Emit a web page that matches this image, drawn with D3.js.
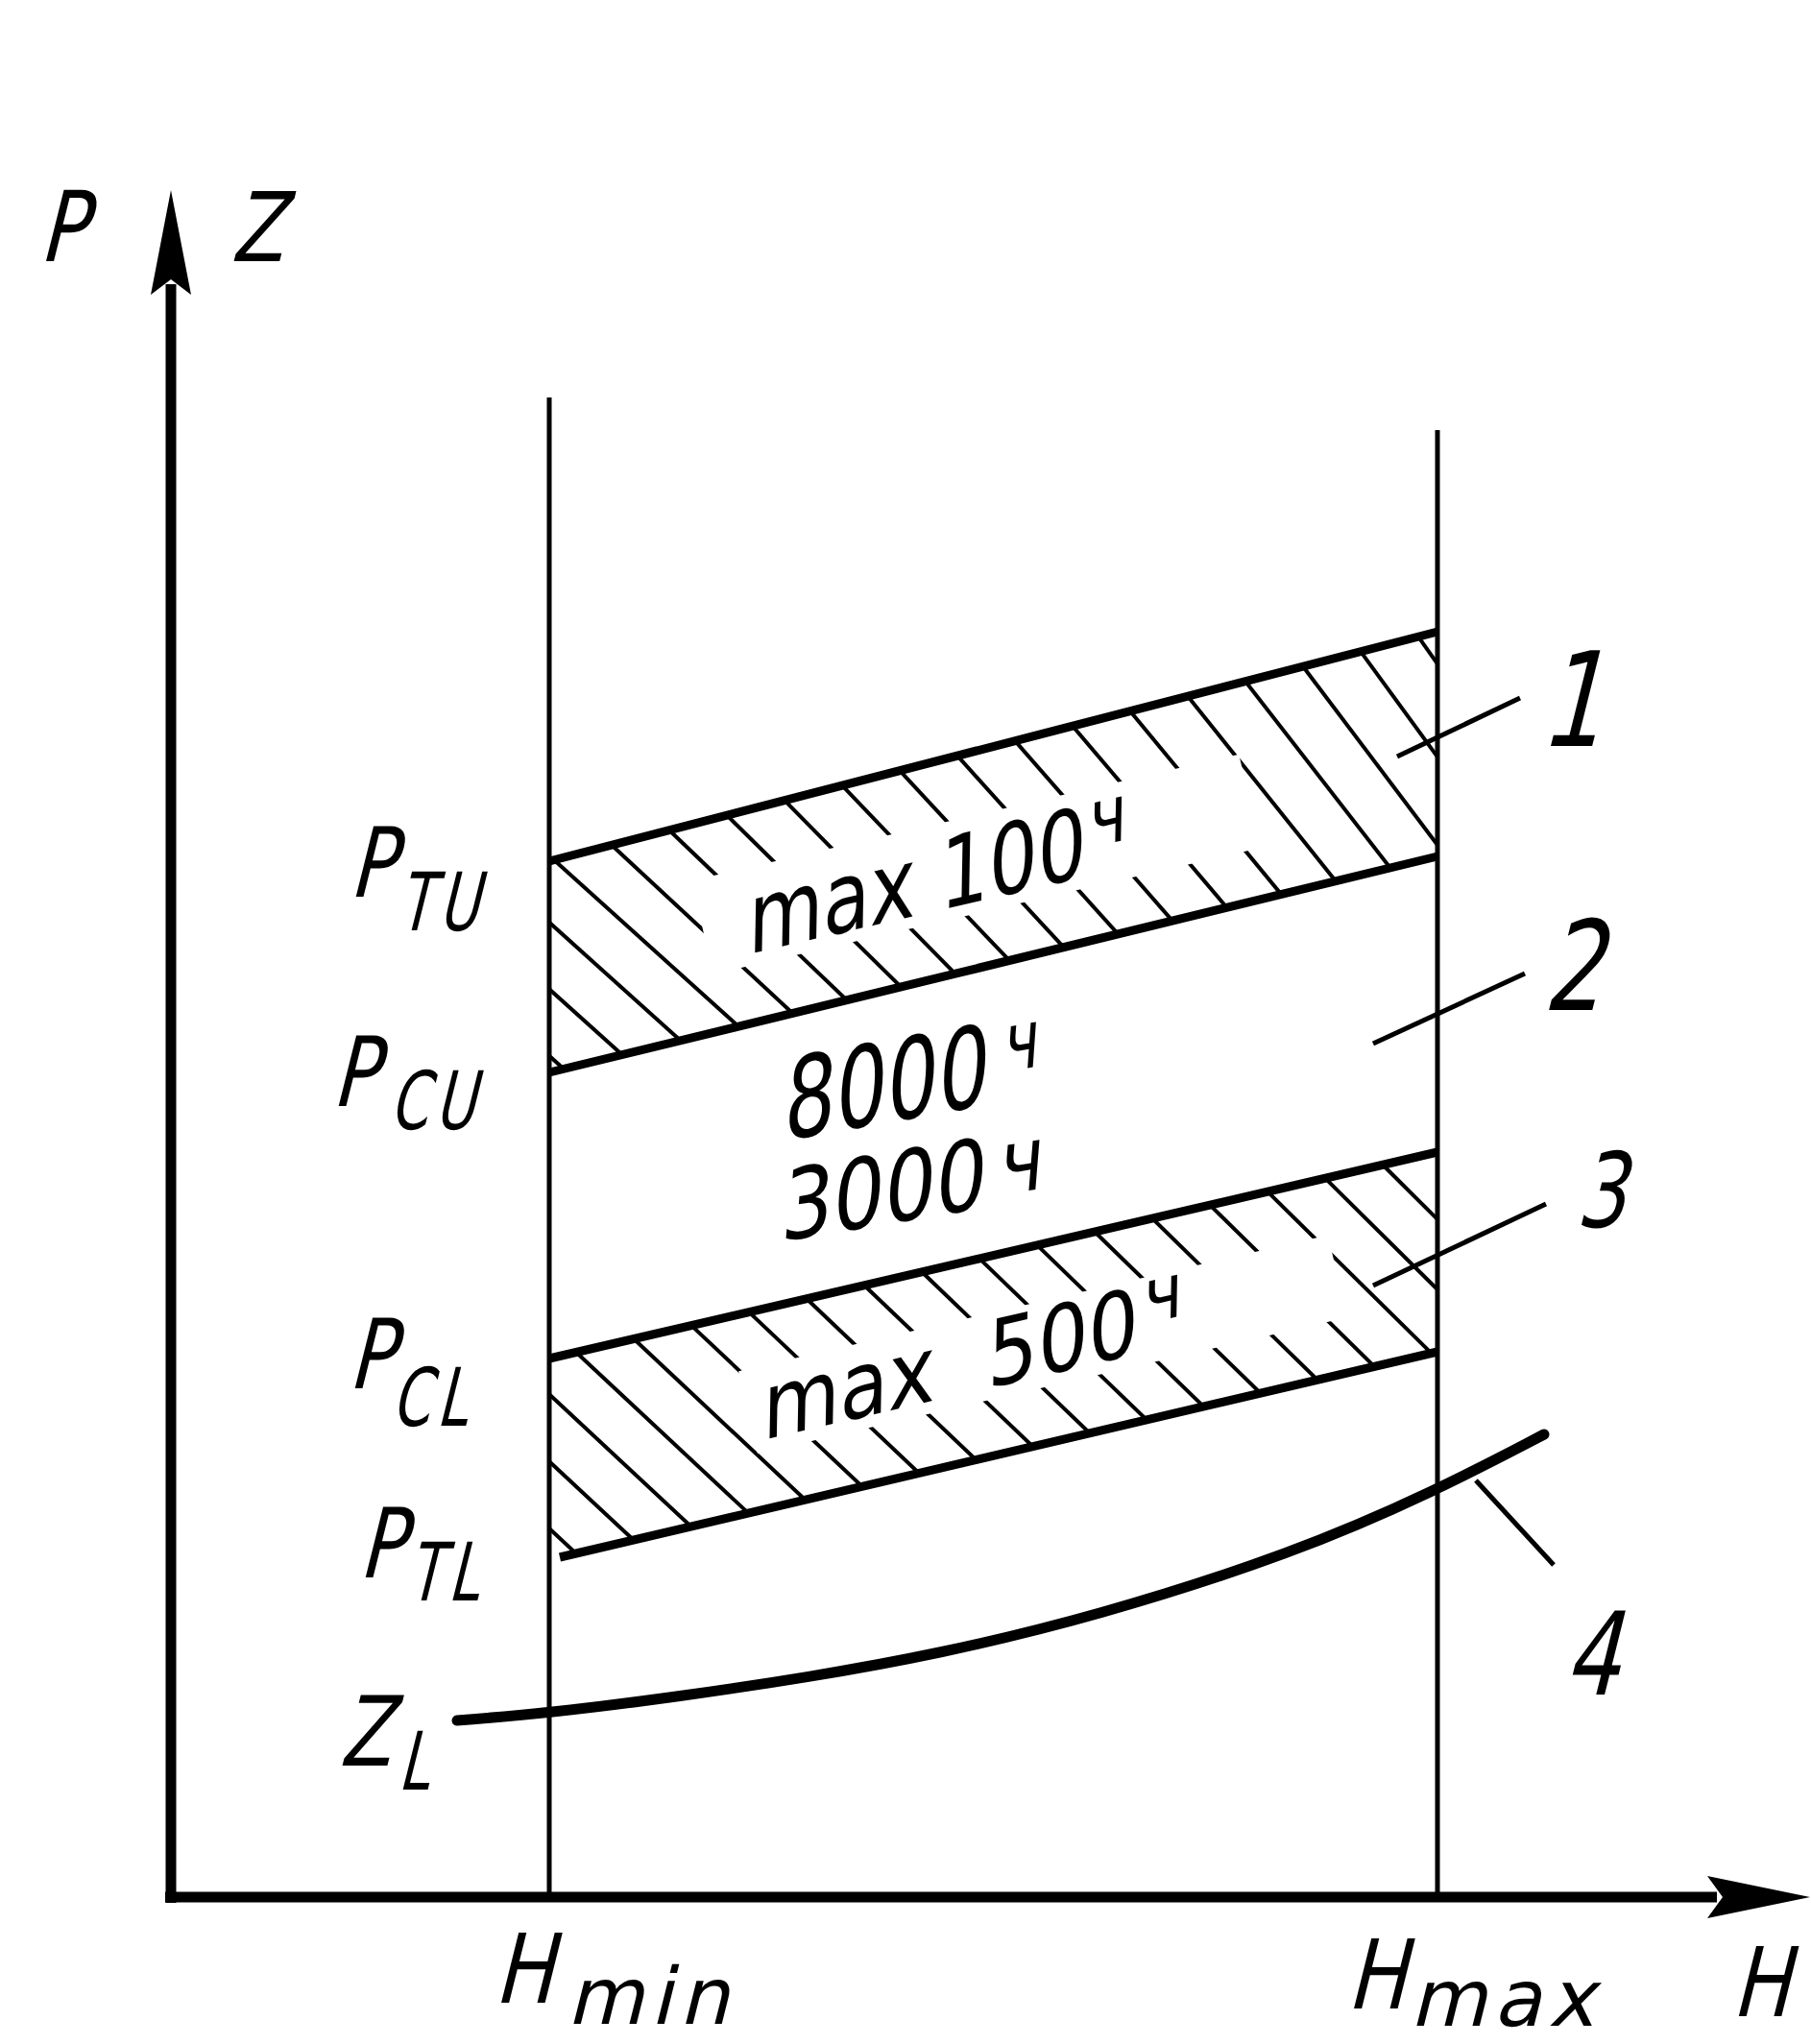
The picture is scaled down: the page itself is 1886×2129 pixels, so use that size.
<!DOCTYPE html>
<html>
<head>
<meta charset="utf-8">
<script src="https://cdn.jsdelivr.net/npm/d3@7"></script>
<style>
  body { margin: 0; background: #fff; }
  svg { display: block; }
</style>
</head>
<body>
<svg width="1886" height="2129"></svg>
<script>
// chart values, in H (horizontal) and P / Z (vertical) units
var hLimits = [39.4, 131.9];            // Hmin, Hmax
var hLimitTops = [156.2, 152.8];        // where the two vertical lines end
var band1Top = [107.9, 131.8];          // P_TU line at Hmin, Hmax
var band1Bottom = [85.9, 108.4];        // P_CU line
var band3Top = [56.1, 77.6];            // P_CL line
var band3Bottom = [35.4, 56.8];         // P_TL line
var band3BottomStart = 40.5;            // P_TL line starts a bit right of Hmin
var zlCurve = [
  [29.8, 18.4], [39.6, 19.2], [53.0, 20.9], [66.4, 22.9], [79.8, 25.3],
  [96.2, 29.2], [116.9, 35.8], [131.7, 42.3], [143.0, 48.2]
];
var leaderLines = [
  [[127.7, 118.8], [140.5, 124.9]],
  [[125.2, 88.9], [141.0, 96.2]],
  [[125.2, 63.7], [143.2, 72.2]],
  [[135.9, 43.4], [144.0, 34.6]]
];
var leaderNames = ["1", "2", "3", "4"];
var levelNames = [["P", "TU"], ["P", "CU"], ["P", "CL"], ["P", "TL"], ["Z", "L"]];
var hNames = [["H", "min"], ["H", "max"]];
var bandTexts = [["max", "100", "ч"], ["max", "500", "ч"]];
var lifeTexts = [["8000", "ч"], ["3000", "ч"]];

var FONT = "'DejaVu Sans', sans-serif";
var svg = d3.select("svg");

var x = d3.scaleLinear().domain([0, 171]).range([178, 1888]);
var y = d3.scaleLinear().domain([0, 178]).range([1976, 196]);

// text in the slanted, narrow drafting style
function drawText(px, py, angle, parts, opt) {
  var g = svg.append("g")
    .attr("transform", "translate(" + px + "," + py + ") rotate(" + angle + ") skewX(-14) scale(" + (opt.sx || 0.72) + ",1)");
  var t = g.append("text")
    .attr("font-family", FONT)
    .attr("font-size", opt.size)
    .attr("letter-spacing", opt.ls || 0)
    .attr("text-anchor", opt.anchor || "start")
    .attr("fill", "#000");
  parts.forEach(function(p) {
    t.append("tspan")
      .attr("dx", p.dx || 0)
      .attr("dy", p.dy || 0)
      .attr("font-size", p.size || null)
      .text(p.t);
  });
}

// vertical lines at Hmin and Hmax
hLimits.forEach(function(h, i) {
  svg.append("line")
    .attr("x1", x(h)).attr("x2", x(h))
    .attr("y1", y(hLimitTops[i])).attr("y2", y(0))
    .attr("stroke", "#000").attr("stroke-width", 5);
});

// hatched bands
function hatchBand(id, poly, topLine, angL, angR, phase, gap) {
  svg.append("clipPath").attr("id", id)
    .append("polygon")
    .attr("points", poly.map(function(p) { return p.join(","); }).join(" "));
  var g = svg.append("g").attr("clip-path", "url(#" + id + ")");
  var xa = topLine[0][0], ya = topLine[0][1], xb = topLine[1][0], yb = topLine[1][1];
  var slope = (yb - ya) / (xb - xa);
  for (var xs = phase - 60 * 12; xs < xb + 20; xs += 60) {
    var t = Math.max(0, Math.min(1, (xs - xa) / (xb - xa)));
    var a = (angL + (angR - angL) * t) * Math.PI / 180;
    var y0 = ya + slope * (xs - xa);
    g.append("line")
      .attr("x1", xs).attr("y1", y0)
      .attr("x2", xs + 700 * Math.cos(a)).attr("y2", y0 + 700 * Math.sin(a))
      .attr("stroke", "#000").attr("stroke-width", 4);
  }
  // break in the hatching around the text
  g.append("rect")
    .attr("transform", "translate(" + gap.x + "," + gap.y + ") rotate(" + gap.angle + ")")
    .attr("x", gap.x0).attr("y", gap.y0)
    .attr("width", gap.x1 - gap.x0).attr("height", gap.y1 - gap.y0)
    .attr("fill", "#fff");
}

var b1 = [
  [x(hLimits[0]), y(band1Top[0])], [x(hLimits[1]), y(band1Top[1])],
  [x(hLimits[1]), y(band1Bottom[1])], [x(hLimits[0]), y(band1Bottom[0])]
];
hatchBand("clip1", b1, [b1[0], b1[1]], 42, 55, 637,
  {x: 779, y: 994, angle: -13, x0: -40, x1: 545, y0: -88, y1: 12});

var b3 = [
  [x(hLimits[0]), y(band3Top[0])], [x(hLimits[1]), y(band3Top[1])],
  [x(hLimits[1]), y(band3Bottom[1])], [x(band3BottomStart), y(band3Bottom[0])],
  [x(hLimits[0]), y(band3Bottom[0])]
];
hatchBand("clip3", b3, [b3[0], b3[1]], 43, 45, 600,
  {x: 796, y: 1500, angle: -13, x0: -10, x1: 620, y0: -76, y1: 12});

// band edges
var edges = [
  [[hLimits[0], band1Top[0]], [hLimits[1], band1Top[1]]],
  [[hLimits[0], band1Bottom[0]], [hLimits[1], band1Bottom[1]]],
  [[hLimits[0], band3Top[0]], [hLimits[1], band3Top[1]]],
  [[band3BottomStart, band3Bottom[0]], [hLimits[1], band3Bottom[1]]]
];
var line = d3.line().x(function(d) { return x(d[0]); }).y(function(d) { return y(d[1]); });
edges.forEach(function(e) {
  svg.append("path").attr("d", line(e))
    .attr("fill", "none").attr("stroke", "#000").attr("stroke-width", 9);
});

// Z_L curve
var curveLine = d3.line().curve(d3.curveBasis)
  .x(function(d) { return x(d[0]); }).y(function(d) { return y(d[1]); });
svg.append("path")
  .attr("d", curveLine(zlCurve))
  .attr("fill", "none").attr("stroke", "#000")
  .attr("stroke-width", 11).attr("stroke-linecap", "round");

// leader lines and their numbers
leaderLines.forEach(function(l) {
  svg.append("path").attr("d", line(l))
    .attr("fill", "none").attr("stroke", "#000").attr("stroke-width", 5);
});
var numPos = [[1635, 777, 137], [1637, 1052, 130], [1666, 1278, 108], [1657, 1765, 120]];
leaderNames.forEach(function(n, i) {
  drawText(numPos[i][0], numPos[i][1], 0, [{t: n}], {size: numPos[i][2], sx: 0.75, anchor: "middle"});
});

// axes
svg.append("line")
  .attr("x1", x(0)).attr("x2", x(0))
  .attr("y1", y(0) + 6).attr("y2", y(168))
  .attr("stroke", "#000").attr("stroke-width", 11);
svg.append("path")
  .attr("d", "M" + x(0) + "," + y(177.8) + " L" + (x(0) + 21) + "," + y(166.9) +
    " L" + x(0) + "," + y(168.5) + " L" + (x(0) - 21) + "," + y(166.9) + " Z")
  .attr("fill", "#000");
svg.append("line")
  .attr("x1", x(0) - 6).attr("x2", x(161))
  .attr("y1", y(0)).attr("y2", y(0))
  .attr("stroke", "#000").attr("stroke-width", 11);
svg.append("path")
  .attr("d", "M" + x(170.7) + "," + y(0) + " L" + x(160) + "," + (y(0) - 22) +
    " L" + x(161.6) + "," + y(0) + " L" + x(160) + "," + (y(0) + 22) + " Z")
  .attr("fill", "#000");

// axis letters
drawText(40, 272, 0, [{t: "P"}], {size: 102, sx: 0.8});
drawText(240, 272, 0, [{t: "Z"}], {size: 100, sx: 0.8});
drawText(1803, 2100, 0, [{t: "H"}], {size: 100, sx: 0.8});

// level labels on the left: main letter and subscript
var levelMain = [[363, 934], [345, 1152], [362, 1446], [373, 1643], [353, 1839]];
var levelSub = [[414, 969], [405, 1176], [407, 1485], [424, 1667], [414, 1864]];
levelNames.forEach(function(n, i) {
  drawText(levelMain[i][0], levelMain[i][1], 0, [{t: n[0]}], {size: 101, sx: 0.78});
  drawText(levelSub[i][0], levelSub[i][1], 0, [{t: n[1]}], {size: 84, sx: 0.68, ls: 10});
});

// Hmin, Hmax
var hMain = [[514, 2086], [1402, 2092]];
var hSub = [[590, 2108], [1468, 2110]];
hNames.forEach(function(n, i) {
  drawText(hMain[i][0], hMain[i][1], 0, [{t: n[0]}], {size: 100, sx: 0.82});
  drawText(hSub[i][0], hSub[i][1], 0, [{t: n[1]}], {size: 82, sx: 1.0, ls: 7});
});

// band texts
drawText(779, 994, -13,
  [{t: bandTexts[0][0] + " " + bandTexts[0][1]}, {t: bandTexts[0][2], dy: -28, dx: 4, size: 82}],
  {size: 100, sx: 0.82});
drawText(794, 1500, -13,
  [{t: bandTexts[1][0]}, {t: bandTexts[1][1], dx: 62}, {t: bandTexts[1][2], dy: -28, dx: 6, size: 78}],
  {size: 94, sx: 0.9});
drawText(815, 1188, -10, [{t: lifeTexts[0][0]}, {t: lifeTexts[0][1], dy: -30, dx: 20, size: 84}], {size: 115, sx: 0.74});
drawText(812, 1293, -9.4, [{t: lifeTexts[1][0]}, {t: lifeTexts[1][1], dy: -10, dx: 16, size: 92}], {size: 100, sx: 0.85});
</script>
</body>
</html>
